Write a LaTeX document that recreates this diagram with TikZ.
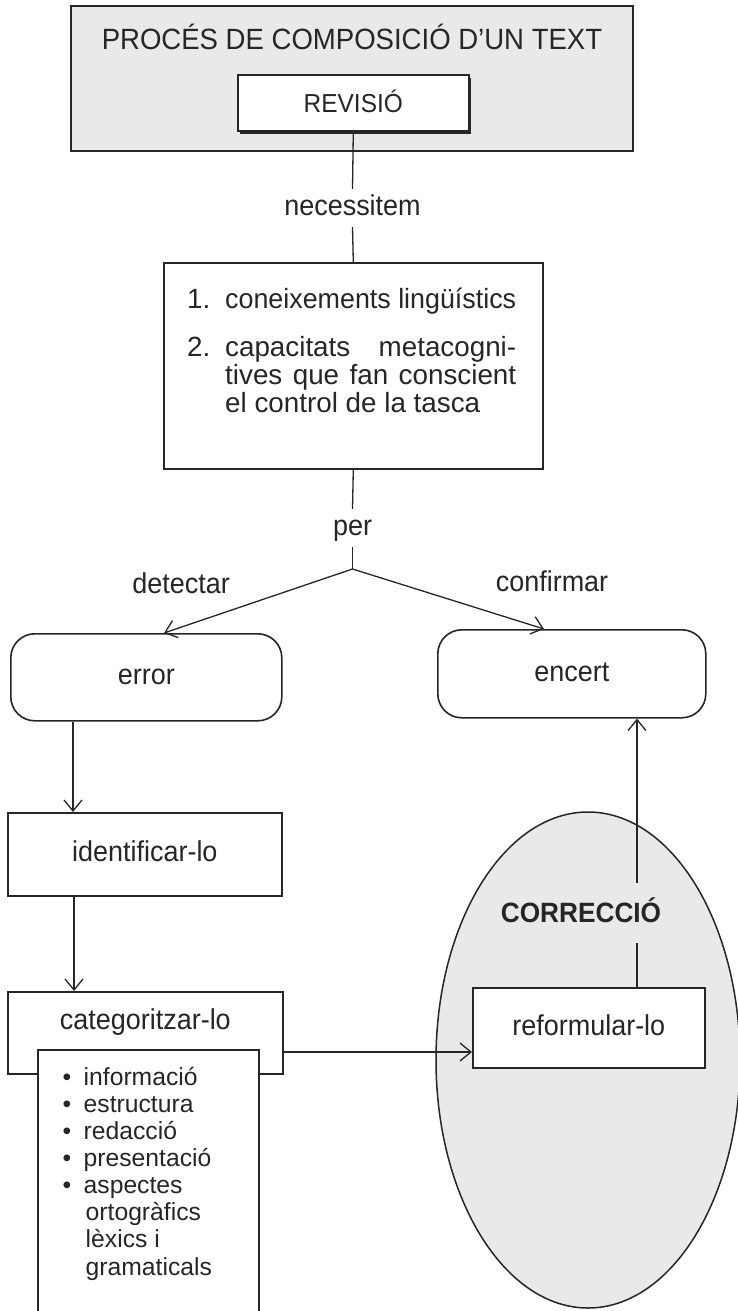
\documentclass[tikz,border=0pt]{standalone}
\usepackage{fontspec}
\usepackage{graphicx}
\setmainfont{Liberation Sans}
\newfontfamily\nar{Liberation Sans}[FakeStretch=0.94]
\usetikzlibrary{arrows.meta,shapes.geometric,shadows}
\definecolor{screen}{gray}{0.915}
\definecolor{ink}{gray}{0.15}

\begin{document}
\begin{tikzpicture}[x=1pt,y=-1pt,
  every node/.style={text=ink},
  frame/.style={draw=ink, line width=1.6pt, inner sep=0pt, anchor=north west},
  lab/.style={font=\nar\fontsize{28.7pt}{32pt}\selectfont, text height=14.9pt, text depth=0pt, inner sep=0pt},
  wire/.style={draw=ink, line width=1.3pt},
  arr/.style={wire, -{Straight Barb[length=11pt,width=18pt]}},
]
\useasboundingbox (0,0) rectangle (737,1311);
\fill[white] (0,0) rectangle (737,1311);

% correction area
\node[ellipse, draw=ink, line width=1.5pt, fill=screen, minimum width=304pt, minimum height=496pt, inner sep=0pt] (corr) at (588,1060) {};

% heading block
\node[frame, fill=screen, line width=2.2pt, minimum width=562pt, minimum height=145pt] (top) at (70,5) {};
\node[font=\nar\fontsize{29.3pt}{32pt}\selectfont, text height=21pt, text depth=0pt, inner sep=0pt] (title) at (352,39) {PROCÉS DE COMPOSICIÓ D’UN TEXT};
\node[frame, fill=white, minimum width=231pt, minimum height=56pt,
      drop shadow={shadow xshift=2.5pt, shadow yshift=-3pt, fill=ink, opacity=1},
      font=\nar\fontsize{26pt}{30pt}\selectfont, text height=18.6pt, text depth=0pt] (revisio) at (237,74) {REVISIÓ};

\node[lab, minimum height=38pt] (necessitem) at (352.5,208) {necessitem};

% knowledge box
\node[frame, minimum width=379pt, minimum height=206pt] (know) at (163,262) {};
\node[anchor=base west, inner sep=0pt] (knowtext) at (187,308.5) {\parbox[t]{329pt}{%
  \fontsize{27.8pt}{28pt}\selectfont\lineskiplimit=-20pt\lineskip=0pt
  \makebox[38pt][l]{1.}\resizebox{291pt}{\height}{coneixements lingüístics}\\[20pt]
  \makebox[38pt][l]{2.}\makebox[291pt][s]{capacitats metacogni-}\\
  \hspace*{38pt}\makebox[291pt][s]{tives que fan conscient}\\
  \hspace*{38pt}el control de la tasca}};

\node[lab, minimum height=38pt] (per) at (352.5,528) {per};
\coordinate (br) at (352.5,569);
\node[lab] (detectar) at (181,586) {detectar};
\node[lab] (confirmar) at (552,584) {confirmar};

% outcome boxes
\node[frame, rounded corners=24pt, minimum width=271pt, minimum height=87pt, lab] (error) at (10,633) {error};
\node[frame, rounded corners=24pt, minimum width=268pt, minimum height=88pt, lab] (encert) at (437,629) {encert};

% error handling chain
\node[frame, minimum width=274pt, minimum height=83pt, lab] (ident) at (7,812) {identificar-lo};
\node[frame, fill=white, minimum width=275pt, minimum height=82pt, lab, text depth=22pt] (categ) at (7,991) {categoritzar-lo};
\node[frame, fill=white, minimum width=221pt, minimum height=275pt] (list) at (37,1049) {};
\node[anchor=base west, inner sep=0pt] (listtext) at (62.5,1085) {\parbox[t]{190pt}{%
  \fontsize{24.7pt}{27.15pt}\selectfont\lineskiplimit=-20pt\lineskip=0pt
  \makebox[21pt][l]{\textbullet}informació\\
  \makebox[21pt][l]{\textbullet}estructura\\
  \makebox[21pt][l]{\textbullet}redacció\\
  \makebox[21pt][l]{\textbullet}presentació\\
  \makebox[21pt][l]{\textbullet}aspectes\\
  \hspace*{23pt}ortogràfics\\
  \hspace*{23pt}lèxics i\\
  \hspace*{23pt}gramaticals}};

\node[frame, fill=white, minimum width=232pt, minimum height=80pt, lab] (reform) at (472,987) {reformular-lo};

% connectors
\draw[wire] (revisio.south) -- (necessitem.north);
\draw[wire] (necessitem.south) -- (know.north);
\draw[wire] (know.south) -- (per.north);
\draw[wire] (per.south) -- (br);
\draw[arr] (br) -- ([xshift=154pt]error.north west);
\draw[arr] (br) -- ([xshift=107pt]encert.north west);
\draw[arr] ([xshift=63pt]error.south west) -- ([xshift=66pt]ident.north west);
\draw[arr] ([xshift=67pt]ident.south west) -- ([xshift=67pt]categ.north west);
\draw[arr] ([yshift=-61pt]categ.north east) -- ([yshift=-65pt]reform.north west);
\draw[arr] ([xshift=165pt]reform.north west) -- ([xshift=200pt]encert.south west);

\node[font=\nar\bfseries\fontsize{27.9pt}{32pt}\selectfont, text height=20pt, text depth=0pt,
      fill=screen, inner xsep=0pt, inner ysep=0pt, minimum height=60pt] (corrlabel) at (581,912.5) {CORRECCIÓ};
\end{tikzpicture}
\end{document}
